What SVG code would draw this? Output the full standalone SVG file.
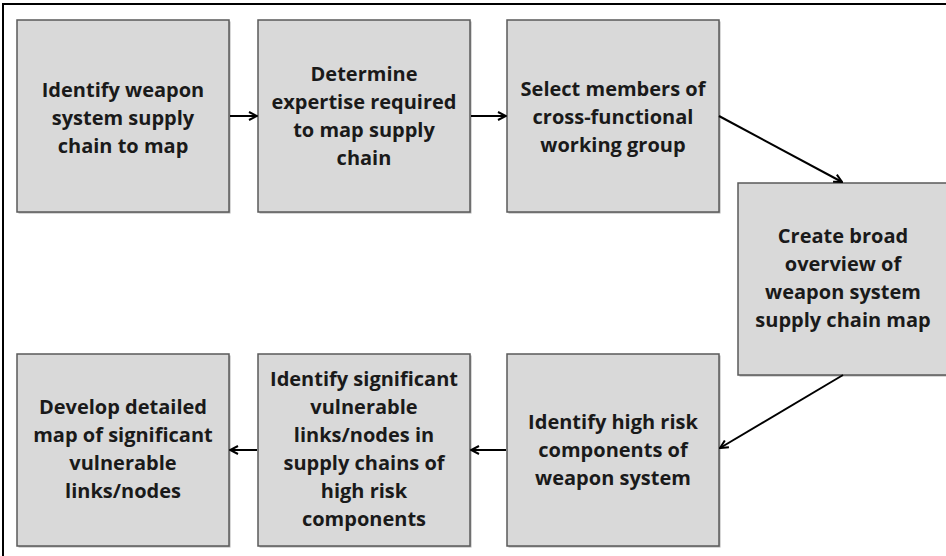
<svg xmlns="http://www.w3.org/2000/svg" width="946" height="556" viewBox="0 0 946 556">
<defs>
<style>
.box{fill:#d9d9d9;stroke:#5a5a5a;stroke-width:1.5}
.sh{fill:#b0b0b0}
.t{font-family:"Open Sans","Liberation Sans",sans-serif;font-weight:700;font-size:20px;fill:#1a1a1a;text-anchor:middle}
.c{stroke:#000;stroke-width:2;fill:none;marker-end:url(#ah)}
</style>
<marker id="ah" viewBox="0 0 10 10" refX="9" refY="5" markerWidth="10" markerHeight="10" markerUnits="userSpaceOnUse" orient="auto">
<path d="M1,1 L9,5 L1,9" fill="none" stroke="#000" stroke-width="2"/>
</marker>
</defs>
<rect x="0" y="0" width="946" height="556" fill="#fff"/>
<rect x="3" y="4" width="970" height="580" fill="none" stroke="#000" stroke-width="2"/>
<g id="n1">
<rect class="sh" x="18.5" y="21.5" width="212" height="192"/>
<rect class="box" x="17" y="20" width="212" height="192"/>
<text class="t" x="123" y="97">Identify weapon</text>
<text class="t" x="123" y="125">system supply</text>
<text class="t" x="123" y="153">chain to map</text>
</g>
<g id="n2">
<rect class="sh" x="259.5" y="21.5" width="212" height="192"/>
<rect class="box" x="258" y="20" width="212" height="192"/>
<text class="t" x="364" y="81">Determine</text>
<text class="t" x="364" y="109">expertise required</text>
<text class="t" x="364" y="137">to map supply</text>
<text class="t" x="364" y="165">chain</text>
</g>
<g id="n3">
<rect class="sh" x="508.5" y="21.5" width="212" height="192"/>
<rect class="box" x="507" y="20" width="212" height="192"/>
<text class="t" x="613" y="96">Select members of</text>
<text class="t" x="613" y="124">cross-functional</text>
<text class="t" x="613" y="152">working group</text>
</g>
<g id="n4">
<rect class="sh" x="739.5" y="184.5" width="212" height="192"/>
<rect class="box" x="738" y="183" width="212" height="192"/>
<text class="t" x="843" y="243">Create broad</text>
<text class="t" x="843" y="271">overview of</text>
<text class="t" x="843" y="299">weapon system</text>
<text class="t" x="843" y="327">supply chain map</text>
</g>
<g id="n5">
<rect class="sh" x="508.5" y="355.5" width="212" height="192"/>
<rect class="box" x="507" y="354" width="212" height="192"/>
<text class="t" x="613" y="429">Identify high risk</text>
<text class="t" x="613" y="457">components of</text>
<text class="t" x="613" y="485">weapon system</text>
</g>
<g id="n6">
<rect class="sh" x="259.5" y="355.5" width="212" height="192"/>
<rect class="box" x="258" y="354" width="212" height="192"/>
<text class="t" x="364" y="386">Identify significant</text>
<text class="t" x="364" y="414">vulnerable</text>
<text class="t" x="364" y="442">links/nodes in</text>
<text class="t" x="364" y="470">supply chains of</text>
<text class="t" x="364" y="498">high risk</text>
<text class="t" x="364" y="526">components</text>
</g>
<g id="n7">
<rect class="sh" x="18.5" y="355.5" width="212" height="192"/>
<rect class="box" x="17" y="354" width="212" height="192"/>
<text class="t" x="123" y="414">Develop detailed</text>
<text class="t" x="123" y="442">map of significant</text>
<text class="t" x="123" y="470">vulnerable</text>
<text class="t" x="123" y="498">links/nodes</text>
</g>
<g id="connectors">
<line class="c" x1="230" y1="116" x2="257" y2="116"/>
<line class="c" x1="471" y1="116" x2="506" y2="116"/>
<line class="c" x1="719" y1="116" x2="842" y2="182"/>
<line class="c" x1="843" y1="375" x2="720" y2="448"/>
<line class="c" x1="506" y1="450" x2="471" y2="450"/>
<line class="c" x1="257" y1="450" x2="230" y2="450"/>
</g>
</svg>
